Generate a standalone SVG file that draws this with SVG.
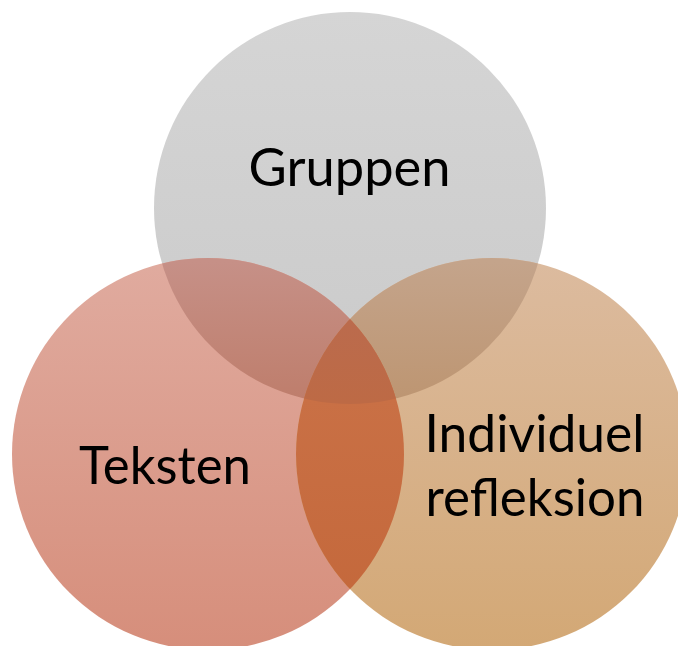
<svg xmlns="http://www.w3.org/2000/svg" width="678" height="646" viewBox="0 0 678 646">
<style>
.lbl{font-family:Lato,"Open Sans","Liberation Sans",sans-serif;font-size:53px;fill:#000;text-anchor:middle}
</style>
<defs>
<clipPath id="cT"><circle cx="350" cy="208" r="196"/></clipPath>
<clipPath id="cL"><circle cx="208" cy="454" r="196"/></clipPath>
<linearGradient id="gGray" gradientUnits="userSpaceOnUse" x1="0" y1="12" x2="0" y2="404"><stop offset="0" stop-color="#d5d5d5"/><stop offset="1" stop-color="#cacaca"/></linearGradient>
<linearGradient id="gLeft" gradientUnits="userSpaceOnUse" x1="0" y1="258" x2="0" y2="650"><stop offset="0" stop-color="#e0ab9f"/><stop offset="1" stop-color="#d68e7b"/></linearGradient>
<linearGradient id="gRight" gradientUnits="userSpaceOnUse" x1="0" y1="258" x2="0" y2="650"><stop offset="0" stop-color="#dcbb9f"/><stop offset="1" stop-color="#d3a875"/></linearGradient>
<linearGradient id="gGL" gradientUnits="userSpaceOnUse" x1="0" y1="262" x2="0" y2="404"><stop offset="0" stop-color="#c69087"/><stop offset="1" stop-color="#be7d6b"/></linearGradient>
<linearGradient id="gGR" gradientUnits="userSpaceOnUse" x1="0" y1="262" x2="0" y2="404"><stop offset="0" stop-color="#c4a48b"/><stop offset="1" stop-color="#bd9571"/></linearGradient>
<linearGradient id="gLR" gradientUnits="userSpaceOnUse" x1="0" y1="400" x2="0" y2="610"><stop offset="0" stop-color="#c97045"/><stop offset="1" stop-color="#c4683b"/></linearGradient>
<linearGradient id="gTri" gradientUnits="userSpaceOnUse" x1="0" y1="320" x2="0" y2="404"><stop offset="0" stop-color="#bb6b4d"/><stop offset="1" stop-color="#bd6a45"/></linearGradient>
</defs>
<rect width="678" height="646" fill="#fff"/>
<g id="gruppen"><circle cx="350" cy="208" r="196" fill="url(#gGray)"/></g>
<g id="teksten"><circle cx="208" cy="454" r="196" fill="url(#gLeft)"/></g>
<g id="individuel-refleksion"><circle cx="492" cy="454" r="196" fill="url(#gRight)"/></g>
<g id="overlaps">
<g clip-path="url(#cT)"><circle cx="208" cy="454" r="196" fill="url(#gGL)"/></g>
<g clip-path="url(#cT)"><circle cx="492" cy="454" r="196" fill="url(#gGR)"/></g>
<g clip-path="url(#cL)"><circle cx="492" cy="454" r="196" fill="url(#gLR)"/></g>
<g clip-path="url(#cT)"><g clip-path="url(#cL)"><circle cx="492" cy="454" r="196" fill="url(#gTri)"/></g></g>
</g>
<g id="labels">
<text class="lbl" x="349.5" y="186" textLength="202" lengthAdjust="spacingAndGlyphs">Gruppen</text>
<text class="lbl" x="165" y="484" textLength="172" lengthAdjust="spacingAndGlyphs">Teksten</text>
<text class="lbl" x="534.5" y="452" textLength="220" lengthAdjust="spacingAndGlyphs">Individuel</text>
<text class="lbl" x="535" y="516" textLength="219" lengthAdjust="spacingAndGlyphs">refleksion</text>
</g>
</svg>
